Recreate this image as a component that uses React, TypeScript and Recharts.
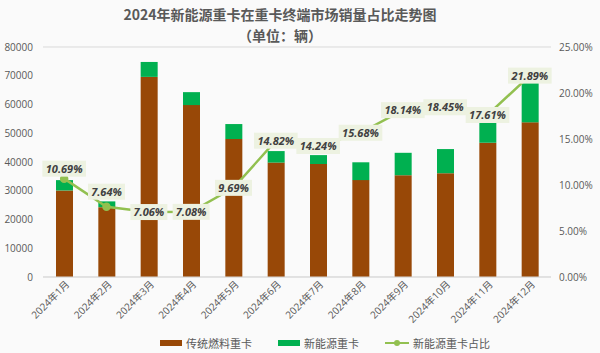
import {
  ComposedChart,
  Bar,
  Line,
  XAxis,
  YAxis,
  CartesianGrid,
  LabelList,
  Legend,
} from 'recharts'

const months = [
  '2024年1月', '2024年2月', '2024年3月', '2024年4月', '2024年5月', '2024年6月',
  '2024年7月', '2024年8月', '2024年9月', '2024年10月', '2024年11月', '2024年12月',
]
const fuelTrucks = [30100, 24300, 69600, 59800, 48000, 39800, 39300, 33700, 35400, 36100, 46700, 53800]
const nevTrucks = [3600, 2000, 5200, 4500, 5200, 4000, 3100, 6200, 7800, 8400, 7100, 13900]
const nevShare = [10.69, 7.64, 7.06, 7.08, 9.69, 14.82, 14.24, 15.68, 18.14, 18.45, 17.61, 21.89]
const leftTicks = [0, 10000, 20000, 30000, 40000, 50000, 60000, 70000, 80000]
const rightTicks = [0, 5, 10, 15, 20, 25]

// small nudges so the first two labels sit above their points like the original
const labelDy = [-10, -15, 0, 0, 0, 0, 0, 0, 0, 0, 0, 0]

const BROWN = '#984807'
const GREEN = '#00b050'
const LINE_GREEN = '#92c050'
const FONT = '"Open Sans", "Noto Sans CJK SC", sans-serif'

const data = months.map((m, i) => ({
  month: m,
  fuel: fuelTrucks[i],
  nev: nevTrucks[i],
  share: nevShare[i],
}))

const ShareLabel = (props: any) => {
  const { x, y, value, index } = props
  const text = `${Number(value).toFixed(2)}%`
  const w = text.length * 6.6 + 4
  const cy = y + (labelDy[index] ?? 0)
  return (
    <g>
      <rect x={x - w / 2} y={cy - 8} width={w} height={16} fill="#edf2e1" />
      <text
        x={x}
        y={cy + 4}
        textAnchor="middle"
        fontSize={11}
        fontWeight="bold"
        fontStyle="italic"
        fill="#404040"
        fontFamily={FONT}
      >
        {text}
      </text>
    </g>
  )
}

const MonthTick = (props: any) => {
  const { x, y, payload } = props
  return (
    <g transform={`translate(${x + 6},${y})`}>
      <text transform="rotate(-45)" textAnchor="end" fontSize={10} fill="#595959" fontFamily={FONT}>
        {payload.value}
      </text>
    </g>
  )
}

const LegendContent = () => (
  <div
    style={{
      display: 'flex',
      justifyContent: 'center',
      gap: 26,
      fontSize: 11,
      color: '#595959',
      fontFamily: FONT,
      paddingLeft: 50,
    }}
  >
    <span style={{ display: 'flex', alignItems: 'center', gap: 4 }}>
      <span style={{ width: 22, height: 6, background: BROWN, display: 'inline-block' }} />
      传统燃料重卡
    </span>
    <span style={{ display: 'flex', alignItems: 'center', gap: 4 }}>
      <span style={{ width: 22, height: 6, background: GREEN, display: 'inline-block' }} />
      新能源重卡
    </span>
    <span style={{ display: 'flex', alignItems: 'center', gap: 4 }}>
      <svg width={24} height={8}>
        <line x1={0} y1={4} x2={24} y2={4} stroke={LINE_GREEN} strokeWidth={2} />
        <circle cx={12} cy={4} r={3} fill={LINE_GREEN} />
      </svg>
      新能源重卡占比
    </span>
  </div>
)

export default function App() {
  return (
    <div
      style={{
        position: 'absolute',
        left: 0,
        top: 0,
        width: 600,
        height: 353,
        background: '#fafafa',
        fontFamily: FONT,
      }}
    >
      <div
        style={{
          position: 'absolute',
          left: 0,
          width: 560,
          top: 4,
          textAlign: 'center',
          color: '#595959',
          fontWeight: 'bold',
          fontSize: 14,
          lineHeight: '21px',
          fontFamily: '"Noto Sans CJK SC", sans-serif',
        }}
      >
        <div>2024年新能源重卡在重卡终端市场销量占比走势图</div>
        <div>（单位：辆）</div>
      </div>
      <ComposedChart
        width={600}
        height={353}
        data={data}
        margin={{ top: 47, right: 0, bottom: 0, left: 0 }}
        barCategoryGap="30%"
      >
        <CartesianGrid vertical={false} stroke="#d9d9d9" />
        <XAxis
          dataKey="month"
          interval={0}
          height={60}
          axisLine={{ stroke: '#d9d9d9' }}
          tickLine={false}
          tick={<MonthTick />}
        />
        <YAxis
          yAxisId="left"
          width={43}
          domain={[0, 80000]}
          ticks={leftTicks}
          axisLine={false}
          tickLine={false}
          tickMargin={4}
          tick={{ fontSize: 10, fill: '#595959', fontFamily: FONT }}
        />
        <YAxis
          yAxisId="right"
          orientation="right"
          width={49}
          domain={[0, 25]}
          ticks={rightTicks}
          axisLine={false}
          tickLine={false}
          tickFormatter={(v: number) => `${v.toFixed(2)}%`}
          tick={{ fontSize: 10, fill: '#595959', fontFamily: FONT }}
        />
        <Legend content={<LegendContent />} verticalAlign="bottom" wrapperStyle={{ bottom: 2 }} />
        <Bar yAxisId="left" dataKey="fuel" name="传统燃料重卡" stackId="a" fill={BROWN} barSize={17} isAnimationActive={false} />
        <Bar yAxisId="left" dataKey="nev" name="新能源重卡" stackId="a" fill={GREEN} barSize={17} isAnimationActive={false} />
        <Line
          yAxisId="right"
          dataKey="share"
          name="新能源重卡占比"
          stroke={LINE_GREEN}
          strokeWidth={2.5}
          dot={{ r: 3, fill: LINE_GREEN, stroke: LINE_GREEN }}
          isAnimationActive={false}
        >
          <LabelList dataKey="share" content={<ShareLabel />} />
        </Line>
      </ComposedChart>
    </div>
  )
}
